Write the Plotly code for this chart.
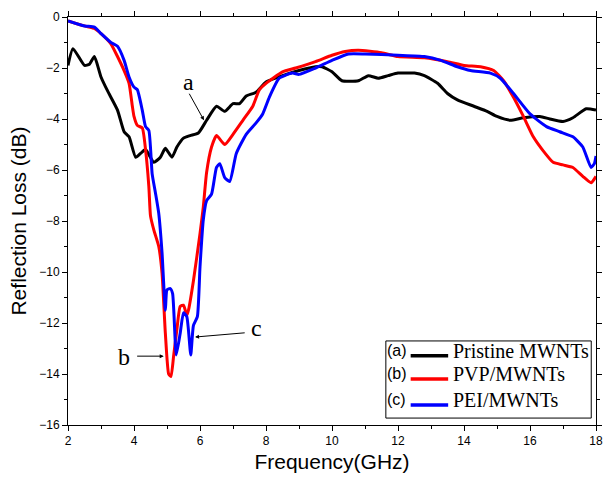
import plotly.graph_objects as go

# Pristine MWNTs (a)
freq_a = [2.0, 2.15, 2.5, 2.65, 2.8, 3.0, 3.2, 3.5, 3.7, 3.85, 4.05, 4.2, 4.35, 4.6, 4.8, 4.95, 5.15, 5.3, 5.5, 5.7, 5.95,
          6.2, 6.5, 6.75, 7.0, 7.2, 7.4, 7.7, 8.0, 8.5, 9.0, 9.5, 9.7, 10.0, 10.3, 10.8, 11.1, 11.4, 11.7, 12.0, 12.5, 12.8,
          13.2, 13.5, 13.8, 14.3, 14.7, 15.0, 15.4, 15.8, 16.3, 16.6, 17.0, 17.3, 17.7, 18.0]
rl_a = [-1.9, -1.24, -1.9, -1.85, -1.55, -2.35, -2.9, -3.65, -4.5, -4.7, -5.5, -5.35, -5.2, -5.7, -5.5, -5.15, -5.5, -5.1,
        -4.75, -4.65, -4.55, -4.05, -3.5, -3.7, -3.4, -3.4, -3.1, -2.95, -2.55, -2.3, -2.1, -1.95, -1.95, -2.15, -2.5, -2.5,
        -2.3, -2.4, -2.3, -2.2, -2.2, -2.3, -2.6, -3.0, -3.25, -3.5, -3.7, -3.9, -4.05, -3.95, -3.9, -4.0, -4.1, -3.95,
        -3.6, -3.65]

# PVP/MWNTs (b)
freq_b = [2.0, 2.5, 2.8, 3.0, 3.3, 3.5, 3.7, 3.85, 3.95, 4.0, 4.1, 4.25, 4.35, 4.45, 4.5, 4.6, 4.75, 4.85, 4.95, 5.05,
          5.12, 5.2, 5.3, 5.4, 5.5, 5.6, 5.65, 5.8, 6.0, 6.1, 6.2, 6.35, 6.5, 6.75, 7.0, 7.3, 7.6, 7.8, 8.0, 8.5, 8.9,
          9.5, 10.0, 10.4, 10.8, 11.5, 12.0, 12.8, 13.5, 14.0, 14.5, 14.9, 15.2, 15.5, 15.8, 16.1, 16.4, 16.7, 17.0,
          17.3, 17.6, 17.85, 18.0]
rl_b = [-0.15, -0.35, -0.45, -0.65, -1.05, -1.55, -2.1, -2.6, -3.5, -3.9, -4.25, -4.35, -5.2, -6.65, -7.8, -8.35, -9.0,
        -10.05, -12.4, -14.0, -14.1, -13.3, -12.25, -11.35, -11.3, -11.7, -11.5, -10.35, -8.5, -7.45, -6.1, -5.1, -4.65,
        -5.0, -4.6, -4.05, -3.5, -2.85, -2.6, -2.15, -2.0, -1.75, -1.5, -1.35, -1.3, -1.4, -1.55, -1.6, -1.75, -1.9,
        -1.95, -2.1, -2.5, -3.15, -3.9, -4.7, -5.25, -5.7, -5.8, -5.9, -6.25, -6.5, -6.25]

# PEI/MWNTs (c)
freq_c = [2.0, 2.5, 2.8, 3.0, 3.3, 3.5, 3.7, 3.85, 4.0, 4.1, 4.25, 4.35, 4.45, 4.55, 4.65, 4.75, 4.85, 4.95, 5.0, 5.1,
          5.17, 5.28, 5.4, 5.5, 5.6, 5.72, 5.8, 5.92, 6.0, 6.1, 6.2, 6.35, 6.5, 6.6, 6.75, 6.9, 7.1, 7.4, 7.7, 7.9, 8.1,
          8.4, 8.8, 9.0, 9.5, 10.0, 10.5, 11.0, 12.0, 12.8, 13.3, 13.8, 14.2, 14.8, 15.1, 15.5, 16.0, 16.5, 16.9, 17.3,
          17.6, 17.85, 17.95, 18.0]
rl_c = [-0.15, -0.35, -0.4, -0.65, -1.0, -1.15, -1.7, -2.35, -2.75, -2.85, -3.65, -4.3, -4.45, -6.15, -6.9, -7.7, -9.25,
        -11.5, -10.7, -10.65, -10.85, -13.25, -12.4, -11.6, -11.75, -13.25, -12.1, -11.75, -9.8, -7.95, -7.2, -6.95,
        -5.9, -5.75, -6.3, -6.45, -5.35, -4.6, -4.15, -3.8, -3.15, -2.4, -2.2, -2.25, -2.0, -1.7, -1.45, -1.45, -1.5,
        -1.55, -1.7, -1.95, -2.1, -2.2, -2.4, -3.0, -3.8, -4.3, -4.5, -4.7, -5.1, -5.9, -5.75, -5.45]

labels = ["(a)", "(b)", "(c)"]
names = ["Pristine MWNTs", "PVP/MWNTs", "PEI/MWNTs"]
colors = ["#000000", "#ff0000", "#0000ff"]
series = [(freq_a, rl_a), (freq_b, rl_b), (freq_c, rl_c)]

fig = go.Figure()
for (fx, fy), nm, col in zip(series, names, colors):
    fig.add_trace(go.Scatter(x=fx, y=fy, mode="lines", name=nm,
                             line=dict(color=col, width=3, shape="spline", smoothing=0.5),
                             showlegend=False))

axis_common = dict(showline=True, linecolor="black", linewidth=1, mirror="ticks", ticks="outside",
                   ticklen=5, tickcolor="black", showgrid=False, zeroline=False,
                   tickfont=dict(family="Liberation Sans, Arial", size=12, color="black"),
                   minor=dict(ticks="outside", ticklen=3, tickcolor="black", dtick=1, showgrid=False))

fig.update_xaxes(range=[2, 18], dtick=2, tick0=2,
                 title=dict(text="Frequency(GHz)", font=dict(family="Liberation Sans, Arial", size=21, color="black"),
                            standoff=6), **axis_common)
fig.update_yaxes(range=[-16, 0], dtick=2, tick0=0,
                 title=dict(text="Reflection Loss (dB)", font=dict(family="Liberation Sans, Arial", size=21, color="black"),
                            standoff=6), **axis_common)

serif = "Liberation Serif, Times New Roman"
# annotations with arrows
fig.add_annotation(x=6.12, y=-4.05, ax=5.65, ay=-2.95, axref="x", ayref="y", xref="x", yref="y",
                   text="", showarrow=True, arrowhead=2, arrowsize=0.8, arrowwidth=1, arrowcolor="black")
fig.add_annotation(x=5.65, y=-2.55, text="a", showarrow=False, font=dict(family=serif, size=24, color="black"))
fig.add_annotation(x=4.9, y=-13.3, ax=4.05, ay=-13.3, axref="x", ayref="y", xref="x", yref="y",
                   text="", showarrow=True, arrowhead=2, arrowsize=0.8, arrowwidth=1, arrowcolor="black")
fig.add_annotation(x=3.7, y=-13.35, text="b", showarrow=False, font=dict(family=serif, size=24, color="black"))
fig.add_annotation(x=5.85, y=-12.55, ax=7.4, ay=-12.38, axref="x", ayref="y", xref="x", yref="y",
                   text="", showarrow=True, arrowhead=2, arrowsize=0.8, arrowwidth=1, arrowcolor="black")
fig.add_annotation(x=7.72, y=-12.2, text="c", showarrow=False, font=dict(family=serif, size=24, color="black"))

# manual legend box
fig.add_shape(type="rect", xref="paper", yref="paper", x0=0.602, x1=0.991, y0=0.017, y1=0.206,
              line=dict(color="black", width=1), fillcolor="white", layer="above")
rows = [0.170, 0.113, 0.049]
for lab, nm, col, ry in zip(labels, names, colors, rows):
    fig.add_annotation(xref="paper", yref="paper", x=0.623, y=ry, yshift=-5, text=lab, showarrow=False,
                       font=dict(family="Liberation Sans, Arial", size=16, color="black"))
    fig.add_shape(type="line", xref="paper", yref="paper", x0=0.649, x1=0.720, y0=ry, y1=ry,
                  line=dict(color=col, width=3.5), layer="above")
    fig.add_annotation(xref="paper", yref="paper", x=0.725, y=ry, yshift=-8, xanchor="left", text=nm,
                       showarrow=False, font=dict(family=serif, size=20, color="black"))

fig.update_layout(width=610, height=480, margin=dict(l=68, r=7, t=17, b=55),
                  plot_bgcolor="white", paper_bgcolor="white")

fig.write_html("out.html", config={"displayModeBar": False},
               post_script="document.body.style.margin='0';")
